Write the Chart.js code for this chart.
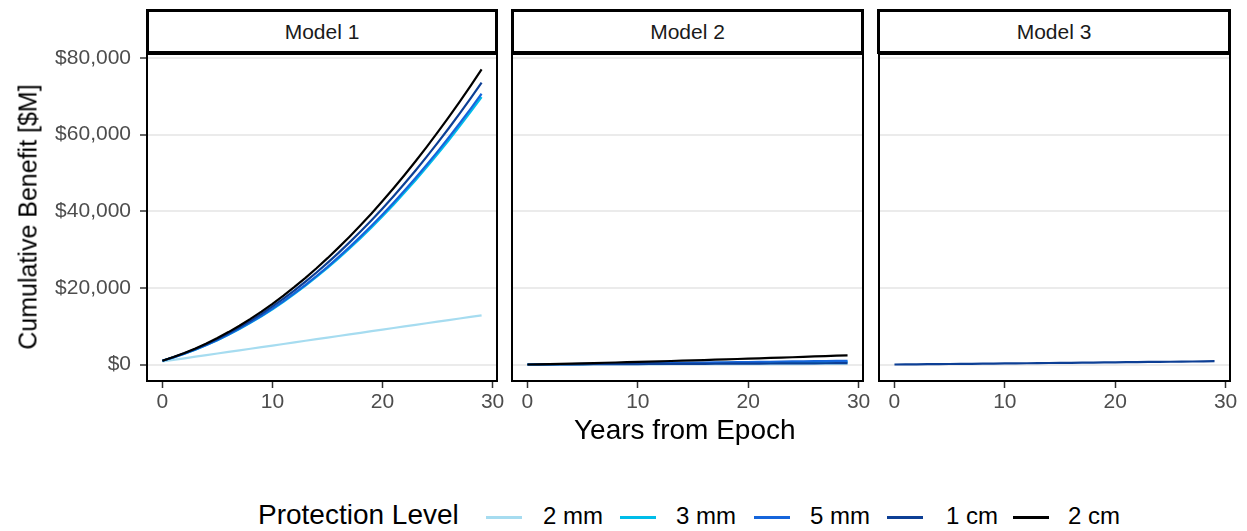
<!DOCTYPE html>
<html>
<head>
<meta charset="utf-8">
<script src="https://cdn.jsdelivr.net/npm/chart.js@4.4.1/dist/chart.umd.min.js"></script>
<style>
  body { margin: 0; background: #fff; font-family: "Liberation Sans", Arial, sans-serif; }
  #wrap { position: relative; width: 1247px; height: 531px; overflow: hidden; background: #fff; }
  canvas { position: absolute; }
  .strip { position: absolute; top: 9px; height: 45px; box-sizing: border-box; border: 3px solid #000;
           background: #fff; color: #1a1a1a; font-size: 21px; text-align: center; line-height: 39px; }
  .title { position: absolute; color: #000; white-space: nowrap; }
  .key { position: absolute; top: 516px; width: 36px; height: 3px; }
  .lab { position: absolute; top: 502px; font-size: 24px; color: #000; white-space: nowrap; }
</style>
</head>
<body>
<div id="wrap">
  <canvas id="c1" width="515" height="380" style="left:0;top:50px"></canvas>
  <canvas id="c2" width="381" height="380" style="left:500px;top:50px"></canvas>
  <canvas id="c3" width="381" height="380" style="left:866px;top:50px"></canvas>

  <div class="strip" style="left:146px;width:352px">Model 1</div>
  <div class="strip" style="left:511px;width:353px">Model 2</div>
  <div class="strip" style="left:877px;width:354px">Model 3</div>

  <div class="title" style="left:574px;top:414px;font-size:28px">Years from Epoch</div>
  <div class="title" style="left:28px;top:217px;font-size:25px;transform:translate(-50%,-50%) rotate(-90deg)">Cumulative Benefit [$M]</div>

  <div id="legend"></div>
</div>

<script>
const years = [0, 1, 2, 3, 4, 5, 6, 7, 8, 9, 10, 11, 12, 13, 14, 15, 16, 17, 18, 19, 20, 21, 22, 23, 24, 25, 26, 27, 28, 29];
const xTicks = [0, 10, 20, 30];
const yTicks = [0, 20000, 40000, 60000, 80000];

const levels = ["2 mm", "3 mm", "5 mm", "1 cm", "2 cm"];
const levelColors = ["#a6dcf0", "#00bde9", "#1565db", "#0d3f95", "#000000"];

// Model 1
const m1_2mm = [800, 1210, 1620, 2040, 2450, 2870, 3280, 3700, 4110, 4530, 4950, 5360, 5780, 6200, 6610, 7030, 7440, 7860, 8270, 8690, 9100, 9520, 9930, 10350, 10760, 11180, 11590, 12000, 12420, 12830];
const m1_3mm = [1000, 1850, 2820, 3890, 5070, 6360, 7750, 9260, 10870, 12590, 14420, 16360, 18410, 20560, 22830, 25200, 27680, 30270, 32970, 35770, 38680, 41710, 44840, 48080, 51430, 54880, 58450, 62120, 65900, 69790];
const m1_5mm = [1000, 1870, 2840, 3920, 5120, 6420, 7830, 9360, 10990, 12730, 14580, 16550, 18620, 20800, 23090, 25490, 28000, 30620, 33350, 36190, 39140, 42200, 45370, 48650, 52040, 55540, 59150, 62860, 66690, 70630];
const m1_1cm = [1000, 1900, 2920, 4040, 5290, 6650, 8120, 9700, 11400, 13220, 15150, 17190, 19350, 21620, 24010, 26510, 29120, 31850, 34700, 37650, 40730, 43910, 47210, 50630, 54160, 57800, 61560, 65430, 69420, 73520];
const m1_2cm = [1000, 1940, 3010, 4190, 5490, 6920, 8460, 10120, 11910, 13810, 15830, 17970, 20230, 22620, 25120, 27740, 30480, 33340, 36320, 39420, 42640, 45980, 49440, 53020, 56720, 60540, 64480, 68540, 72710, 77010];

// Model 2
const m2_2mm = [0, 5, 10, 15, 20, 25, 30, 35, 40, 45, 50, 55, 60, 65, 70, 75, 80, 85, 90, 95, 100, 105, 110, 115, 120, 125, 130, 135, 140, 145];
const m2_3mm = [0, 20, 45, 65, 90, 110, 135, 160, 180, 205, 230, 250, 275, 300, 325, 350, 375, 400, 425, 450, 475, 500, 525, 550, 580, 605, 630, 655, 685, 710];
const m2_5mm = [0, 30, 60, 95, 125, 155, 190, 220, 255, 285, 320, 350, 385, 420, 450, 485, 520, 555, 590, 620, 655, 690, 725, 760, 795, 830, 865, 900, 935, 970];
const m2_1cm = [0, 10, 20, 35, 45, 55, 70, 80, 90, 105, 115, 130, 140, 155, 165, 180, 190, 205, 215, 230, 240, 255, 270, 280, 295, 310, 320, 335, 350, 360];
const m2_2cm = [0, 55, 115, 180, 245, 315, 385, 455, 530, 605, 680, 760, 840, 920, 1000, 1085, 1170, 1255, 1345, 1435, 1525, 1615, 1710, 1805, 1900, 2000, 2100, 2200, 2300, 2400];

// Model 3 (only 1 cm shows)
const m3_1cm = [0, 25, 50, 80, 105, 135, 160, 190, 220, 245, 275, 305, 335, 360, 390, 420, 450, 480, 510, 540, 570, 600, 630, 665, 695, 725, 760, 790, 825, 860];

const boxPlugin = {
  id: "panelBox",
  afterDraw(chart) {
    const a = chart.chartArea, ctx = chart.ctx;
    ctx.save();
    ctx.strokeStyle = "#000";
    ctx.lineWidth = 2;
    ctx.strokeRect(a.left, a.top, a.right - a.left, a.bottom - a.top);
    ctx.restore();
  }
};

// keep every panel the same size: drop the label padding chart.js adds
function noPad(s) {
  s.paddingLeft = 0;
  s.paddingRight = 0;
  s.paddingTop = 0;
  s.paddingBottom = 0;
}

function makeChart(id, series, yWidth, padRight, showY) {
  const datasets = [];
  series.forEach((vals, i) => {
    if (!vals) return;
    datasets.push({
      label: levels[i],
      data: years.map((y, j) => ({ x: y, y: vals[j] })),
      borderColor: levelColors[i],
      borderWidth: 2.2,
      pointRadius: 0,
      fill: false,
      tension: 0,
      order: 5 - i
    });
  });

  new Chart(document.getElementById(id), {
    type: "line",
    data: { datasets },
    options: {
      responsive: false,
      animation: false,
      layout: { autoPadding: false, padding: { top: 4, right: padRight, left: 0, bottom: 0 } },
      plugins: { legend: { display: false }, tooltip: { enabled: false } },
      scales: {
        x: {
          type: "linear",
          min: -1.4,
          max: 30.4,
          afterBuildTicks: s => { s.ticks = xTicks.map(v => ({ value: v })); },
          afterFit: s => { s.height = 49; noPad(s); },
          border: { display: false },
          grid: { drawOnChartArea: false, drawTicks: true, tickLength: 7, tickColor: "#333", tickWidth: 1.5 },
          ticks: { color: "#4d4d4d", font: { family: "Liberation Sans", size: 21 }, padding: 2, maxRotation: 0 }
        },
        y: {
          min: -4300,
          max: 81000,
          afterBuildTicks: s => { s.ticks = yTicks.map(v => ({ value: v })); },
          afterFit: s => { s.width = yWidth; noPad(s); },
          border: { display: false },
          grid: { color: "#ebebeb", lineWidth: 2, drawTicks: showY, tickLength: 7, tickColor: "#333", tickWidth: 1.5 },
          ticks: {
            display: showY,
            color: "#4d4d4d",
            font: { family: "Liberation Sans", size: 21 },
            padding: 9,
            callback: v => "$" + v.toLocaleString("en-US")
          }
        }
      }
    },
    plugins: [boxPlugin]
  });
}

makeChart("c1", [m1_2mm, m1_3mm, m1_5mm, m1_1cm, m1_2cm], 147, 18, true);
makeChart("c2", [m2_2mm, m2_3mm, m2_5mm, m2_1cm, m2_2cm], 12, 18, false);
makeChart("c3", [null, null, null, m3_1cm, null], 13, 17, false);

// legend
const legend = document.getElementById("legend");
const keyX = [486, 620, 754, 887, 1013];
const labX = [543, 676, 810, 946, 1068];
legend.innerHTML = '<div class="title" style="left:258px;top:499px;font-size:28px">Protection Level</div>';
levels.forEach((lv, i) => {
  legend.innerHTML += `<div class="key" style="left:${keyX[i]}px;background:${levelColors[i]}"></div>` +
    `<div class="lab" style="left:${labX[i]}px">${lv}</div>`;
});
</script>
</body>
</html>
